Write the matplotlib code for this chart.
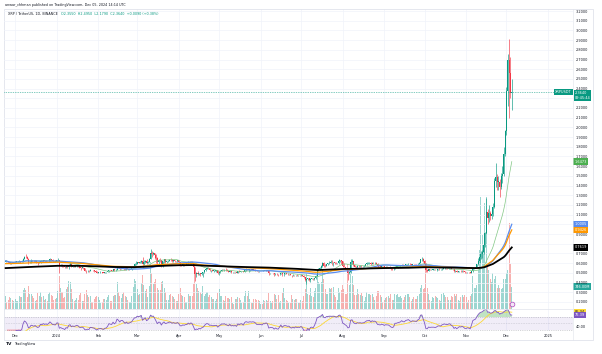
import numpy as np
import pandas as pd
import matplotlib
matplotlib.use("Agg")
import matplotlib.pyplot as plt
import matplotlib.dates as mdates
from matplotlib.patches import Rectangle

# XRP / TetherUS daily candles, 2023-11-24 .. 2024-12-05
start_day = "2023-11-24"
first_open = 0.612

close = [
    .623, .617, .607, .596, .607, .603, .609,  # Nov 23
    .616, .621, .621, .622, .616, .620, .646, .666, .660, .646, .607, .613, .627, .623, .617, .622,
    .609, .601, .606, .624, .619, .628, .621, .625, .620, .627, .640, .630, .620, .618, .616,  # Dec
    .629, .630, .579, .584, .573, .568, .556, .569, .562, .583, .589, .565, .572, .565, .570, .574,
    .569, .553, .551, .554, .545, .522, .519, .523, .518, .531, .529, .525, .522, .511, .501,  # Jan
    .507, .508, .509, .503, .500, .505, .506, .514, .527, .524, .522, .535, .525, .532, .561, .554,
    .543, .556, .556, .547, .536, .546, .536, .540, .543, .550, .568, .586, .588,  # Feb
    .608, .606, .611, .623, .592, .612, .624, .601, .613, .645, .706, .694, .701, .679, .648, .607,
    .633, .630, .583, .619, .640, .610, .617, .627, .637, .632, .618, .629, .620, .619, .630,  # Mar
    .613, .582, .581, .592, .586, .594, .594, .611, .599, .613, .602, .557, .488, .499, .487, .499,
    .488, .500, .506, .524, .544, .553, .545, .526, .529, .520, .521, .522, .524, .500,  # Apr
    .511, .521, .530, .529, .531, .524, .518, .512, .523, .507, .510, .506, .509, .501, .519, .511,
    .518, .518, .508, .526, .535, .531, .531, .534, .532, .534, .533, .528, .519, .518, .518,  # May
    .519, .516, .522, .521, .525, .521, .496, .498, .498, .497, .487, .491, .485, .483, .490, .499,
    .484, .490, .492, .490, .487, .488, .479, .476, .479, .474, .478, .474, .475, .474,  # Jun
    .477, .471, .455, .428, .432, .445, .422, .438, .440, .432, .446, .471, .526, .537, .550, .567,
    .600, .573, .571, .594, .597, .603, .603, .602, .605, .604, .599, .601, .626, .633, .620,  # Jul
    .568, .560, .547, .534, .502, .508, .610, .619, .578, .561, .555, .571, .567, .573, .566, .570,
    .573, .587, .600, .601, .606, .590, .605, .599, .602, .592, .568, .565, .562, .568, .566,  # Aug
    .556, .562, .560, .560, .552, .541, .535, .539, .564, .564, .568, .571, .574, .584, .578, .577,
    .587, .590, .594, .588, .584, .589, .588, .587, .586, .595, .600, .638, .642, .622,  # Sep
    .595, .525, .519, .535, .529, .531, .531, .531, .527, .531, .538, .537, .537, .544, .548, .550,
    .547, .546, .549, .550, .541, .536, .518, .523, .511, .516, .521, .518, .521, .516, .506,  # Oct
    .505, .508, .505, .500, .516, .545, .552, .558, .586, .622, .663, .693, .711, .788, .910, 1.130,
    1.062, 1.115, 1.088, 1.102, 1.180, 1.450, 1.490, 1.440, 1.440, 1.390, 1.500, 1.520, 1.730, 1.960,  # Nov
    2.380, 2.690, 2.560, 2.355, 2.364,  # Dec
]
high = [
    .634, .624, .622, .612, .614, .613, .612,
    .620, .625, .625, .630, .627, .630, .655, .673, .690, .670, .648, .625, .640, .633, .630, .628,
    .628, .615, .620, .630, .630, .635, .630, .635, .627, .634, .650, .645, .640, .625, .630,
    .634, .648, .635, .595, .590, .578, .575, .572, .585, .590, .615, .600, .578, .575, .577, .580,
    .577, .575, .556, .560, .557, .548, .525, .530, .527, .536, .533, .532, .529, .526, .518,
    .510, .514, .512, .511, .508, .509, .512, .518, .531, .530, .530, .539, .541, .535, .570, .565,
    .557, .557, .570, .560, .552, .552, .550, .548, .548, .553, .575, .600, .617,
    .610, .616, .620, .630, .660, .630, .630, .640, .617, .650, .745, .720, .710, .708, .690, .660,
    .640, .655, .632, .625, .645, .645, .625, .633, .645, .650, .640, .637, .635, .625, .633,
    .632, .614, .590, .597, .593, .597, .605, .624, .620, .617, .626, .605, .560, .510, .515, .503,
    .500, .508, .513, .530, .550, .562, .560, .550, .533, .534, .526, .530, .528, .530,
    .515, .524, .538, .540, .536, .545, .535, .523, .526, .530, .512, .512, .513, .512, .522, .524,
    .522, .523, .521, .530, .545, .540, .540, .537, .537, .538, .543, .536, .531, .523, .522,
    .521, .523, .527, .523, .530, .526, .529, .500, .503, .502, .500, .499, .497, .486, .494, .503,
    .500, .495, .500, .500, .493, .491, .491, .478, .485, .482, .481, .483, .479, .478,
    .488, .482, .477, .459, .436, .450, .449, .446, .448, .447, .451, .475, .536, .548, .560, .580,
    .615, .610, .590, .595, .600, .620, .630, .630, .611, .610, .610, .605, .640, .637, .635,
    .620, .600, .565, .550, .535, .520, .640, .640, .625, .580, .575, .577, .580, .580, .580, .575,
    .576, .592, .610, .612, .612, .610, .612, .615, .607, .610, .600, .575, .575, .572, .570,
    .568, .566, .570, .565, .567, .560, .545, .545, .568, .572, .572, .575, .580, .590, .588, .582,
    .593, .594, .598, .598, .590, .592, .595, .592, .592, .600, .610, .640, .660, .650,
    .635, .600, .535, .539, .537, .536, .542, .537, .540, .535, .542, .545, .540, .552, .557, .557,
    .554, .550, .553, .553, .557, .544, .540, .527, .526, .520, .522, .525, .528, .526, .520,
    .513, .510, .510, .508, .520, .560, .560, .570, .595, .650, .700, .720, .740, .800, .920, 1.270,
    1.160, 1.200, 1.140, 1.140, 1.220, 1.480, 1.630, 1.520, 1.500, 1.470, 1.530, 1.600, 1.800, 1.970,
    2.420, 2.760, 2.910, 2.730, 2.495,
]
low = [
    .610, .612, .600, .590, .590, .598, .598,
    .602, .613, .613, .610, .606, .613, .615, .640, .655, .640, .590, .603, .600, .612, .610, .612,
    .604, .582, .598, .600, .612, .614, .612, .616, .614, .610, .620, .625, .612, .610, .611,
    .610, .622, .500, .570, .565, .560, .551, .545, .550, .540, .575, .560, .560, .563, .562, .563,
    .565, .548, .532, .548, .542, .518, .494, .512, .511, .515, .524, .520, .513, .508, .497,
    .496, .503, .505, .500, .494, .496, .498, .504, .510, .519, .518, .517, .519, .515, .530, .547,
    .533, .540, .547, .530, .527, .532, .533, .533, .537, .534, .547, .560, .580,
    .586, .600, .600, .600, .560, .575, .605, .595, .598, .608, .640, .660, .680, .640, .600, .595,
    .590, .615, .565, .560, .605, .600, .605, .612, .620, .625, .610, .612, .615, .613, .615,
    .595, .566, .575, .574, .575, .584, .590, .593, .592, .590, .598, .530, .420, .460, .478, .475,
    .472, .480, .460, .500, .520, .535, .540, .520, .512, .515, .505, .516, .508, .486,
    .477, .502, .515, .525, .522, .522, .516, .505, .508, .501, .503, .503, .496, .494, .499, .509,
    .508, .514, .507, .505, .522, .525, .510, .522, .530, .528, .530, .519, .516, .511, .512,
    .515, .515, .514, .514, .519, .517, .480, .490, .495, .492, .467, .473, .478, .465, .481, .487,
    .471, .467, .486, .486, .480, .482, .478, .460, .472, .470, .468, .468, .471, .470,
    .472, .470, .451, .420, .382, .425, .420, .410, .432, .429, .425, .440, .469, .520, .527, .543,
    .560, .565, .561, .568, .578, .590, .597, .585, .570, .595, .590, .590, .596, .610, .595,
    .558, .555, .535, .520, .430, .490, .500, .590, .570, .555, .550, .545, .558, .561, .555, .560,
    .564, .570, .583, .595, .590, .585, .588, .595, .595, .590, .560, .550, .558, .555, .561,
    .548, .550, .556, .547, .548, .530, .530, .530, .536, .556, .550, .563, .565, .572, .570, .570,
    .570, .575, .585, .585, .580, .575, .580, .580, .578, .582, .590, .600, .620, .610,
    .585, .506, .505, .516, .525, .526, .525, .524, .525, .518, .527, .532, .532, .532, .540, .542,
    .540, .540, .541, .543, .535, .530, .510, .512, .505, .508, .512, .511, .513, .512, .500,
    .498, .500, .497, .495, .498, .513, .540, .548, .556, .578, .600, .640, .650, .690, .770, .900,
    1.000, 1.020, 1.040, 1.050, 1.090, 1.170, 1.380, 1.350, 1.350, 1.280, 1.360, 1.430, 1.500, 1.700,
    1.920, 2.220, 2.100, 2.300, 2.179,
]
# volume in millions of XRP
volume = [
    420, 210, 300, 380, 360, 280, 250,
    330, 260, 240, 420, 400, 380, 620, 700, 620, 380, 760, 480, 500, 420, 350, 260,
    300, 520, 440, 560, 400, 430, 300, 320, 260, 480, 560, 450, 440, 300, 330,
    350, 600, 1100, 700, 560, 350, 380, 650, 720, 950, 900, 680, 320, 260, 300, 350,
    300, 460, 520, 250, 240, 480, 620, 450, 380, 420, 230, 220, 330, 380, 420,
    380, 300, 200, 220, 330, 310, 300, 380, 450, 260, 270, 420, 450, 470, 900, 560,
    420, 360, 500, 560, 420, 380, 300, 220, 220, 420, 720, 1000, 950,
    650, 450, 480, 880, 1150, 800, 600, 650, 380, 760, 1600, 1200, 850, 900, 1000, 700,
    620, 620, 900, 950, 700, 550, 300, 300, 450, 480, 420, 400, 340, 250, 260,
    500, 700, 450, 420, 380, 230, 220, 480, 420, 430, 420, 850, 1400, 850, 700, 600,
    550, 480, 750, 420, 500, 550, 400, 450, 400, 320, 330, 250, 330, 520,
    650, 420, 420, 300, 250, 420, 350, 360, 330, 400, 180, 170, 330, 330, 380, 350,
    300, 200, 210, 420, 600, 440, 600, 330, 200, 200, 320, 330, 280, 300, 260,
    150, 160, 280, 260, 300, 250, 520, 250, 200, 260, 500, 450, 330, 450, 220, 250,
    520, 700, 360, 300, 250, 180, 200, 450, 330, 280, 320, 330, 180, 200,
    300, 260, 420, 650, 1200, 500, 450, 700, 420, 400, 580, 700, 1300, 900, 850, 900,
    1300, 1000, 650, 500, 480, 700, 650, 700, 720, 450, 400, 280, 700, 560, 620,
    800, 650, 500, 480, 1500, 800, 1500, 1100, 800, 450, 450, 650, 500, 450, 520, 420,
    250, 400, 550, 500, 500, 450, 500, 400, 300, 420, 600, 600, 450, 400, 230,
    300, 350, 380, 420, 350, 480, 300, 280, 500, 450, 480, 400, 420, 350, 300, 400,
    460, 480, 500, 400, 250, 330, 380, 330, 330, 420, 500, 700, 800, 650,
    700, 1300, 700, 480, 280, 260, 400, 360, 420, 400, 350, 300, 250, 480, 520, 450,
    400, 380, 280, 280, 420, 400, 500, 420, 500, 300, 250, 380, 450, 400, 450,
    400, 230, 300, 420, 500, 1100, 700, 700, 800, 1300, 2000, 3800, 2500, 2000, 3600, 3800,
    1500, 1300, 1000, 900, 1200, 1000, 1100, 700, 800, 700, 650, 700, 1000, 1000,
    1200, 1300, 2900, 1500, 746,
]
# starting values of the two EMAs at the left edge
ema100_start = 0.594
ema200_start = 0.548

month_ticks = ["2023-12-01", "2024-01-01", "2024-02-01", "2024-03-01", "2024-04-01", "2024-05-01",
               "2024-06-01", "2024-07-01", "2024-08-01", "2024-09-01", "2024-10-01", "2024-11-01",
               "2024-12-01", "2025-01-01"]
month_labels = ["Dec", "2024", "Feb", "Mar", "Apr", "May", "Jun", "Jul", "Aug", "Sep", "Oct",
                "Nov", "Dec", "2025"]

assert len(close) == len(high) == len(low) == len(volume)

days = pd.date_range(start_day, periods=len(close), freq="D")
x = mdates.date2num(days)
c = np.array(close)
hi = np.array(high)
lo = np.array(low)
vol = np.array(volume)
o = np.r_[first_open, c[:-1]]
up = c >= o

# indicators
s = pd.Series(c)
sma20 = s.rolling(20, min_periods=1).mean().values
sma50 = s.rolling(50, min_periods=1).mean().values


def ema(seed, n):
    a = 2.0 / (n + 1)
    out, e = [], seed
    for v in c:
        e = e + a * (v - e)
        out.append(e)
    return np.array(out)


ema100 = ema(ema100_start, 100)
ema200 = ema(ema200_start, 200)

d = s.diff()
gain = d.clip(lower=0).ewm(alpha=1 / 14, adjust=False).mean()
loss = (-d).clip(lower=0).ewm(alpha=1 / 14, adjust=False).mean()
rsi = (100 - 100 / (1 + gain / loss)).values
rsi_ma = pd.Series(rsi).rolling(14, min_periods=1).mean().values

# colours
GREEN = "#089981"
RED = "#f23645"
TXT = "#131722"
GRID = "#f0f3fa"
BORDER = "#e0e3eb"

W, H = 602, 354
fig = plt.figure(figsize=(W / 100, H / 100), dpi=100)
fig.patch.set_facecolor("white")


def rect(x0, y0, x1, y1):
    return [x0 / W, 1 - y1 / H, (x1 - x0) / W, (y1 - y0) / H]


ax_vol = fig.add_axes(rect(4, 9, 573, 308.5))
ax = fig.add_axes(rect(4, 9, 573, 308.5), sharex=ax_vol)
ax_rsi = fig.add_axes(rect(4, 308.5, 573, 331), sharex=ax_vol)
ax_vol.set_zorder(0)
ax.set_zorder(1)
ax.patch.set_visible(False)

d0 = mdates.date2num(pd.Timestamp("2023-12-01"))
ax.set_xlim(d0 - 8.2, d0 + 415.6)

for a in (ax_vol, ax, ax_rsi):
    for sp in a.spines.values():
        sp.set_visible(False)
ax_rsi.spines["top"].set_visible(True)
ax_rsi.spines["top"].set_color(BORDER)
ax_rsi.spines["top"].set_linewidth(0.5)

# volume
ax_vol.bar(x, vol, width=0.75, color=np.where(up, "#26a69a", "#ef5350"), alpha=0.45, lw=0)
ax_vol.set_ylim(0, 10200)
ax_vol.set_yticks([])
ax_vol.tick_params(axis="x", length=0, labelbottom=False)
ax_vol.set_xticks(mdates.date2num(pd.to_datetime(month_ticks)))
ax_vol.grid(axis="x", color=GRID, lw=0.5)
ax_vol.set_axisbelow(True)

# price pane
ax.set_ylim(0.132, 3.221)
ax.grid(axis="y", color=GRID, lw=0.5)
ax.set_axisbelow(True)
col = np.where(up, GREEN, RED)
ax.vlines(x, lo, hi, colors=col, lw=0.45, zorder=2)
ax.bar(x, np.maximum(np.abs(c - o), 0.004), bottom=np.minimum(o, c), width=0.75,
       color=col, lw=0, zorder=2)
ax.plot(x, sma20, color="#81c784", lw=0.5, zorder=3)
ax.plot(x, sma50, color="#5b8def", lw=0.9, zorder=3)
ax.plot(x, ema100, color="#ff9800", lw=0.9, zorder=3)
ax.plot(x, ema200, color="black", lw=1.3, zorder=3)
ax.axhline(c[-1], color=GREEN, lw=0.5, ls=(0, (1, 1.5)), zorder=3)

# event marker at the bottom of the last day
ax.plot([x[-1]], [0.016], transform=ax.get_xaxis_transform(), marker="o", ms=3.4,
        mfc="#f3e5f5", mec="#ab47bc", mew=0.5, clip_on=False, zorder=4)

# tags on the price scale
tags = [
    (sma20[-1], "#4caf50", "white"),
    (sma50[-1], "#5b8def", "white"),
    (ema100[-1], "#ff9800", "white"),
    (ema200[-1], "black", "white"),
]
yt = np.round(np.arange(0.2, 3.21, 0.1), 1)
ylabels = []
for v in yt:
    near = any(abs(v - t[0]) < 0.04 for t in tags) or (c[-1] - 0.09 < v < c[-1] - 0.01)
    ylabels.append("" if near else f"{v:.4f}")
ax.yaxis.tick_right()
ax.set_yticks(yt)
ax.set_yticklabels(ylabels)
ax.tick_params(axis="y", length=0, pad=2, labelsize=2.5, labelcolor=TXT)
ax.tick_params(axis="x", length=0, labelbottom=False)

ytr = ax.get_yaxis_transform()
for val, bg, fg in tags:
    ax.text(1.003, val, f"{val:.4f}", transform=ytr, fontsize=2.5, color=fg, va="center",
            ha="left", clip_on=False, zorder=6,
            bbox=dict(boxstyle="square,pad=0.35", fc=bg, ec="none"))
ax.text(1.003, c[-1] + 0.012, f"{c[-1]:.4f}\n09:45:44", transform=ytr, fontsize=2.5,
        color="white", va="top", ha="left", clip_on=False, zorder=6, linespacing=1.2,
        bbox=dict(boxstyle="square,pad=0.3", fc=GREEN, ec="none"))
ax.text(0.998, c[-1], "XRPUSDT", transform=ytr, fontsize=2.5, color="white", va="center",
        ha="right", clip_on=False, zorder=6,
        bbox=dict(boxstyle="square,pad=0.35", fc=GREEN, ec="none"))
ax_vol.text(1.003, vol[-1], f"{vol[-1]:.2f}M", transform=ax_vol.get_yaxis_transform(),
            fontsize=2.5, color="white", va="center", ha="left", clip_on=False, zorder=6,
            bbox=dict(boxstyle="square,pad=0.35", fc="#26a69a", ec="none"))

# RSI pane
ax_rsi.set_ylim(25.2, 97.2)
ax_rsi.axhspan(30, 70, color="#7e57c2", alpha=0.1, lw=0)
for lev, st in ((70, (0, (2, 2))), (50, (0, (1, 2))), (30, (0, (2, 2)))):
    ax_rsi.axhline(lev, color="#787b86", lw=0.4, ls=st, alpha=0.6)
ax_rsi.fill_between(x, rsi, 70, where=rsi > 70, interpolate=True, color="#4caf50", alpha=0.35, lw=0)
ax_rsi.fill_between(x, rsi, 30, where=rsi < 30, interpolate=True, color="#f23645", alpha=0.35, lw=0)
ax_rsi.plot(x, rsi_ma, color="#fdd835", lw=0.6)
ax_rsi.plot(x, rsi, color="#7e57c2", lw=0.6)
ax_rsi.grid(axis="x", color=GRID, lw=0.5)
ax_rsi.set_axisbelow(True)
ax_rsi.yaxis.tick_right()
ax_rsi.set_yticks([40])
ax_rsi.set_yticklabels(["40.00"])
ax_rsi.tick_params(axis="y", length=0, pad=2, labelsize=2.5, labelcolor=TXT)
ax_rsi.set_xticks(mdates.date2num(pd.to_datetime(month_ticks)))
ax_rsi.set_xticklabels(month_labels)
ax_rsi.tick_params(axis="x", length=0, pad=2.5, labelsize=2.5, labelcolor=TXT)
rtr = ax_rsi.get_yaxis_transform()
ax_rsi.text(1.003, rsi_ma[-1], f"{rsi_ma[-1]:.2f}", transform=rtr, fontsize=2.5, color=TXT,
            va="center", ha="left", clip_on=False, zorder=6,
            bbox=dict(boxstyle="square,pad=0.3", fc="#fdd835", ec="none"))
ax_rsi.text(1.003, rsi[-1], f"{rsi[-1]:.2f}", transform=rtr, fontsize=2.5, color="white",
            va="center", ha="left", clip_on=False, zorder=6,
            bbox=dict(boxstyle="square,pad=0.3", fc="#7e57c2", ec="none"))

# frame
fig.add_artist(Rectangle((4 / W, 1 - 340 / H), 589 / W, 331 / H, transform=fig.transFigure,
                         fill=False, ec=BORDER, lw=0.6))
fig.add_artist(plt.Line2D([573 / W, 573 / W], [1 - 340 / H, 1 - 9 / H], transform=fig.transFigure,
                          color=BORDER, lw=0.4))

# header texts
fig.text(5 / W, 1 - 5 / H, "anwar_chhman published on TradingView.com, Dec 05, 2024 14:14 UTC",
         fontsize=2.4, color=TXT, va="center")
t1 = fig.text(8 / W, 1 - 14 / H, "XRP / TetherUS, 1D, BINANCE", fontsize=2.4, color=TXT,
              va="center")
chg = c[-1] - c[-2]
ohlc = (f"O{o[-1]:.4f}  H{hi[-1]:.4f}  L{lo[-1]:.4f}  C{c[-1]:.4f}  "
        f"{chg:+.4f} ({chg / c[-2] * 100:+.2f}%)")
fig.add_artist(matplotlib.text.Annotation(ohlc, xy=(1, 0.5), xycoords=t1, xytext=(2.5, 0),
                                          textcoords="offset points", va="center",
                                          fontsize=2.4, color=GREEN if chg >= 0 else RED))

# TradingView logo
fig.text(6 / W, 1 - 344 / H, "TV", fontsize=3.2, fontweight="bold", color=TXT, va="center")
fig.text(14 / W, 1 - 344 / H, "TradingView", fontsize=2.5, color=TXT, va="center")

fig.savefig("out.png", dpi=100, facecolor="white")
